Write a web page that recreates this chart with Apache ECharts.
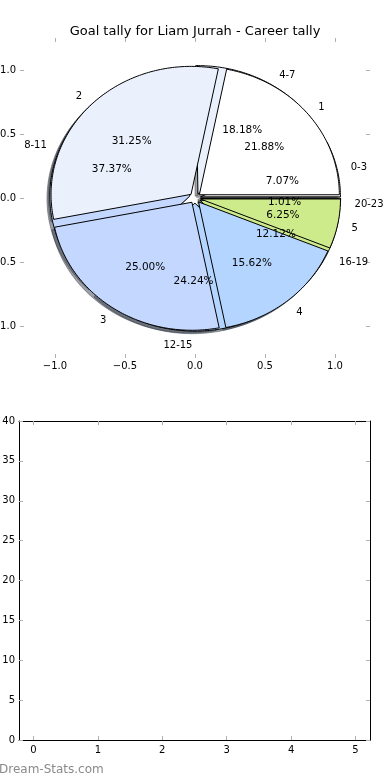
<!DOCTYPE html>
<html><head><meta charset="utf-8">
<script src="https://cdn.jsdelivr.net/npm/echarts@6/dist/echarts.min.js"></script>
<style>html,body{margin:0;padding:0;background:#fff;}#c{width:390px;height:780px;}</style>
</head><body><div id="c"></div>
<script>
const titleText = 'Goal tally for Liam Jurrah - Career tally';
const outerLabels = ['0-3', '4-7', '8-11', '12-15', '16-19', '20-23'];
const outerValues = [7, 18, 37, 24, 12, 1];
const innerLabels = ['1', '2', '3', '4', '5'];
const innerValues = [7, 10, 8, 5, 2];
const pieTicks = [-1, -0.5, 0, 0.5, 1];
const barXTicks = [0, 1, 2, 3, 4, 5];
const watermark = 'Dream-Stats.com';

const palette = ['#ffffff', '#eaf1fd', '#c4d8ff', '#b4d5ff', '#cdeb8b', '#36393d'];
const EXPLODE = 0.04;
const FONT = '"DejaVu Sans", "Liberation Sans", sans-serif';
const TICK_COLOR = '#b0b0b0';
const TEXT_DY = 1.5;

function pyPct(p) {
  const s = p * 100;
  const f = Math.floor(s);
  const d = s - f;
  let n;
  if (Math.abs(d - 0.5) < 1e-9) n = (f % 2 === 0) ? f : f + 1;
  else n = Math.round(s);
  return (n / 100).toFixed(2) + '%';
}

function buildWedges(values, labels) {
  const total = values.reduce((a, b) => a + b, 0);
  let acc = 0;
  return values.map((v, i) => {
    const t1 = acc / total * 360; acc += v; const t2 = acc / total * 360;
    return { t1, t2, label: labels[i], pct: pyPct(100 * v / total), color: palette[i % palette.length] };
  });
}
const outerW = buildWedges(outerValues, outerLabels);
const innerW = buildWedges(innerValues, innerLabels);

function shade(hex) {
  const r = parseInt(hex.slice(1, 3), 16), g = parseInt(hex.slice(3, 5), 16), b = parseInt(hex.slice(5, 7), 16);
  return 'rgba(' + Math.round(r * 0.3) + ',' + Math.round(g * 0.3) + ',' + Math.round(b * 0.3) + ',0.5)';
}

function wedgeRender(list, dx, dy, isShadow) {
  return function (params, api) {
    const w = list[params.dataIndex];
    const t1 = api.value(0), t2 = api.value(1);
    const mid = (t1 + t2) / 2 * Math.PI / 180;
    const cx = EXPLODE * Math.cos(mid) + dx, cy = EXPLODE * Math.sin(mid) + dy;
    const pts = [api.coord([cx, cy])];
    const n = Math.max(2, Math.ceil(t2 - t1));
    for (let k = 0; k <= n; k++) {
      const a = (t1 + (t2 - t1) * k / n) * Math.PI / 180;
      pts.push(api.coord([cx + Math.cos(a), cy + Math.sin(a)]));
    }
    const fill = isShadow ? shade(w.color) : w.color;
    const stroke = isShadow ? shade(w.color) : '#000';
    return { type: 'polygon', shape: { points: pts }, style: { fill: fill, stroke: stroke, lineWidth: 1 } };
  };
}

function wedgeData(list) { return list.map(w => [w.t1, w.t2]); }

// text positions (in data units) derived from wedge angles
const texts = [];
[outerW, innerW].forEach(list => list.forEach(w => {
  const mid = (w.t1 + w.t2) / 2 * Math.PI / 180;
  const c = Math.cos(mid), s = Math.sin(mid);
  const lx = (1.1 + EXPLODE) * c, ly = (1.1 + EXPLODE) * s;
  texts.push({ x: lx, y: ly, text: w.label, align: lx > 0 ? 'left' : 'right', size: 10 });
  texts.push({ x: (0.6 + EXPLODE) * c, y: (0.6 + EXPLODE) * s, text: w.pct, align: 'center', size: 10.5 });
}));

function fmtPie(v) { return (v < 0 ? '\u2212' : '') + Math.abs(v).toFixed(1); }

const tickBase = { inside: true, length: 4, lineStyle: { color: TICK_COLOR, width: 1 } };
const labelBase = { color: '#000', fontSize: 10, fontFamily: FONT };

const chart = echarts.init(document.getElementById('c'), null, { renderer: 'canvas' });
chart.setOption({
  animation: false,
  backgroundColor: '#fff',
  title: { text: titleText, left: 'center', top: 20, textStyle: { fontSize: 13, fontWeight: 'normal', fontFamily: FONT, color: '#000' } },
  grid: [
    { left: 20, top: 38, width: 350, height: 320, containLabel: false, outerBoundsMode: 'none' },
    { left: 19, top: 421, width: 351, height: 319, containLabel: false, outerBoundsMode: 'none' }
  ],
  xAxis: [
    { gridIndex: 0, type: 'value', min: -1.25, max: 1.25, position: 'bottom', axisLine: { show: false, onZero: false }, splitLine: { show: false },
      axisTick: Object.assign({ customValues: pieTicks }, tickBase), axisLabel: Object.assign({ customValues: pieTicks, formatter: fmtPie, margin: 3 }, labelBase) },
    { gridIndex: 0, type: 'value', min: -1.25, max: 1.25, position: 'top', axisLine: { show: false, onZero: false }, splitLine: { show: false },
      axisTick: Object.assign({ customValues: pieTicks }, tickBase), axisLabel: { show: false } },
    { gridIndex: 1, type: 'value', min: -0.225, max: 5.225, position: 'bottom', axisLine: { show: true, onZero: false, lineStyle: { color: '#000', width: 1 } }, splitLine: { show: false },
      axisTick: Object.assign({ customValues: barXTicks }, tickBase), axisLabel: Object.assign({ customValues: barXTicks, margin: 5 }, labelBase) },
    { gridIndex: 1, type: 'value', min: -0.225, max: 5.225, position: 'top', axisLine: { show: true, onZero: false, lineStyle: { color: '#000', width: 1 } }, splitLine: { show: false },
      axisTick: Object.assign({ customValues: barXTicks }, tickBase), axisLabel: { show: false } }
  ],
  yAxis: [
    { gridIndex: 0, type: 'value', min: -1.25, max: 1.25, position: 'left', axisLine: { show: false, onZero: false }, splitLine: { show: false },
      axisTick: Object.assign({ customValues: pieTicks }, tickBase), axisLabel: Object.assign({ customValues: pieTicks, formatter: fmtPie, margin: 4 }, labelBase) },
    { gridIndex: 0, type: 'value', min: -1.25, max: 1.25, position: 'right', axisLine: { show: false, onZero: false }, splitLine: { show: false },
      axisTick: Object.assign({ customValues: pieTicks }, tickBase), axisLabel: { show: false } },
    { gridIndex: 1, type: 'value', min: 0, max: 40, interval: 5, position: 'left', axisLine: { show: true, onZero: false, lineStyle: { color: '#000', width: 1 } }, splitLine: { show: false },
      axisTick: tickBase, axisLabel: Object.assign({ margin: 4 }, labelBase) },
    { gridIndex: 1, type: 'value', min: 0, max: 40, interval: 5, position: 'right', axisLine: { show: true, onZero: false, lineStyle: { color: '#000', width: 1 } }, splitLine: { show: false },
      axisTick: tickBase, axisLabel: { show: false } }
  ],
  graphic: [
    { type: 'text', left: -1, top: 764, style: { text: watermark, font: '12px ' + FONT, fill: '#8a8a8a' } }
  ],
  series: [
    { type: 'custom', name: 'shadowOuter', xAxisIndex: 0, yAxisIndex: 0, clip: false, silent: true, data: wedgeData(outerW), renderItem: wedgeRender(outerW, -0.02, -0.02, true) },
    { type: 'custom', name: 'shadowInner', xAxisIndex: 0, yAxisIndex: 0, clip: false, silent: true, data: wedgeData(innerW), renderItem: wedgeRender(innerW, -0.02, -0.02, true) },
    { type: 'custom', name: 'outer', xAxisIndex: 0, yAxisIndex: 0, clip: false, silent: true, data: wedgeData(outerW), renderItem: wedgeRender(outerW, 0, 0, false) },
    { type: 'custom', name: 'inner', xAxisIndex: 0, yAxisIndex: 0, clip: false, silent: true, data: wedgeData(innerW), renderItem: wedgeRender(innerW, 0, 0, false) },
    { type: 'custom', name: 'texts', xAxisIndex: 0, yAxisIndex: 0, clip: false, silent: true,
      data: texts.map(t => [t.x, t.y]),
      renderItem: function (params, api) {
        const t = texts[params.dataIndex];
        const p = api.coord([api.value(0), api.value(1)]);
        return { type: 'text', x: p[0], y: p[1] + TEXT_DY, style: { text: t.text, fill: '#000', font: t.size + 'px ' + FONT, align: t.align, verticalAlign: 'middle', textAlign: t.align, textVerticalAlign: 'middle' } };
      } }
  ]
});
</script>
</body></html>
